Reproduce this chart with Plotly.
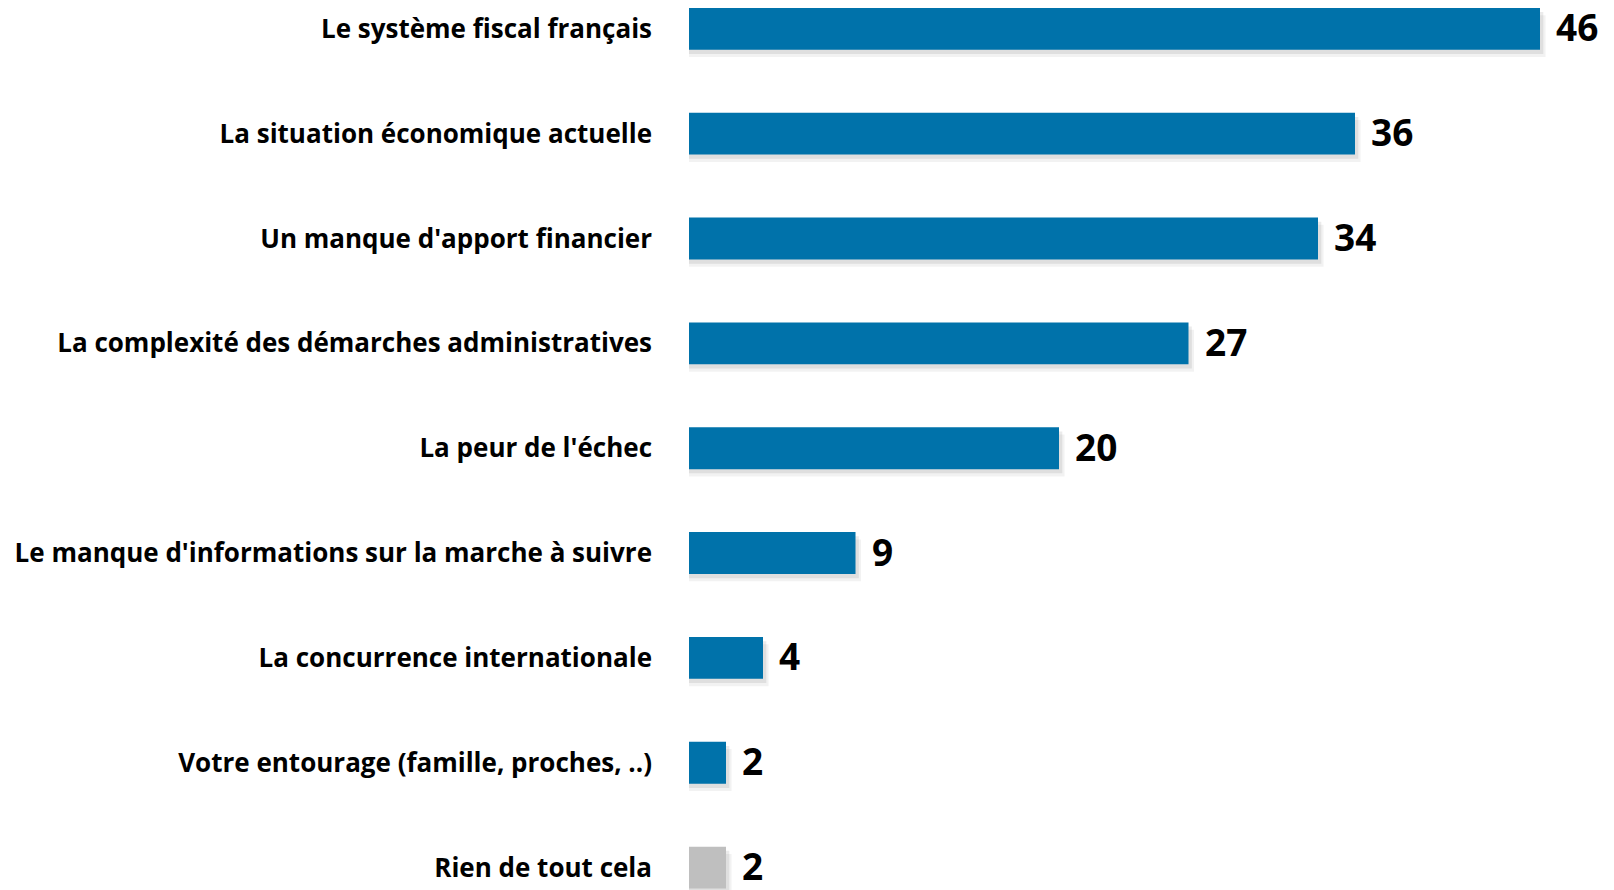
import plotly.graph_objects as go

# Data
categories = [
    "Le système fiscal français",
    "La situation économique actuelle",
    "Un manque d'apport financier",
    "La complexité des démarches administratives",
    "La peur de l'échec",
    "Le manque d'informations sur la marche à suivre",
    "La concurrence internationale",
    "Votre entourage (famille, proches, ..)",
    "Rien de tout cela",
]
values = [46, 36, 34, 27, 20, 9, 4, 2, 2]
bar_colors = ["#0072AA"] * 8 + ["#BFBFBF"]

BAR_WIDTH = 0.40
FONT = "Open Sans"


def build_figure() -> go.Figure:
    """Horizontal bar chart with faint drop shadow and value labels"""
    fig = go.Figure()

    # Fake drop shadow: faint bars drawn slightly right and below each bar
    for dx, dy, alpha in [(0.3, 0.07, 0.05), (0.18, 0.04, 0.08)]:
        fig.add_trace(
            go.Bar(
                x=[v + dx for v in values],
                y=categories,
                orientation="h",
                width=BAR_WIDTH,
                offset=-BAR_WIDTH / 2 + dy,
                marker=dict(color=f"rgba(0,0,0,{alpha})", line_width=0),
                hoverinfo="skip",
                showlegend=False,
            )
        )

    fig.add_trace(
        go.Bar(
            x=values,
            y=categories,
            orientation="h",
            width=BAR_WIDTH,
            offset=-BAR_WIDTH / 2,
            marker=dict(color=bar_colors, line_width=0),
            showlegend=False,
        )
    )

    # Value labels just past the end of each bar
    for cat, val in zip(categories, values):
        fig.add_annotation(
            x=val,
            y=cat,
            text=f"<b>{val}</b>",
            showarrow=False,
            xanchor="left",
            xshift=14,
            yshift=2,
            font=dict(family=FONT, size=37, color="black"),
        )

    # page body adds an 8px margin, so the figure is 8px smaller than the window
    fig.update_layout(
        width=1606,
        height=882,
        margin=dict(l=681, r=0, t=0, b=0),
        barmode="overlay",
        plot_bgcolor="white",
        paper_bgcolor="white",
        font=dict(family=FONT, color="black"),
    )

    fig.update_xaxes(
        range=[0, 50],
        visible=False,
        showgrid=False,
        zeroline=False,
    )
    fig.update_yaxes(
        categoryorder="array",
        categoryarray=categories,
        range=[8.2136, -0.1984],
        showgrid=False,
        zeroline=False,
        showline=False,
        ticks="",
        ticklabelstandoff=36,
        tickfont=dict(family=FONT, size=26, color="black", weight="bold"),
    )
    return fig


fig = build_figure()
fig.write_html("out.html")
